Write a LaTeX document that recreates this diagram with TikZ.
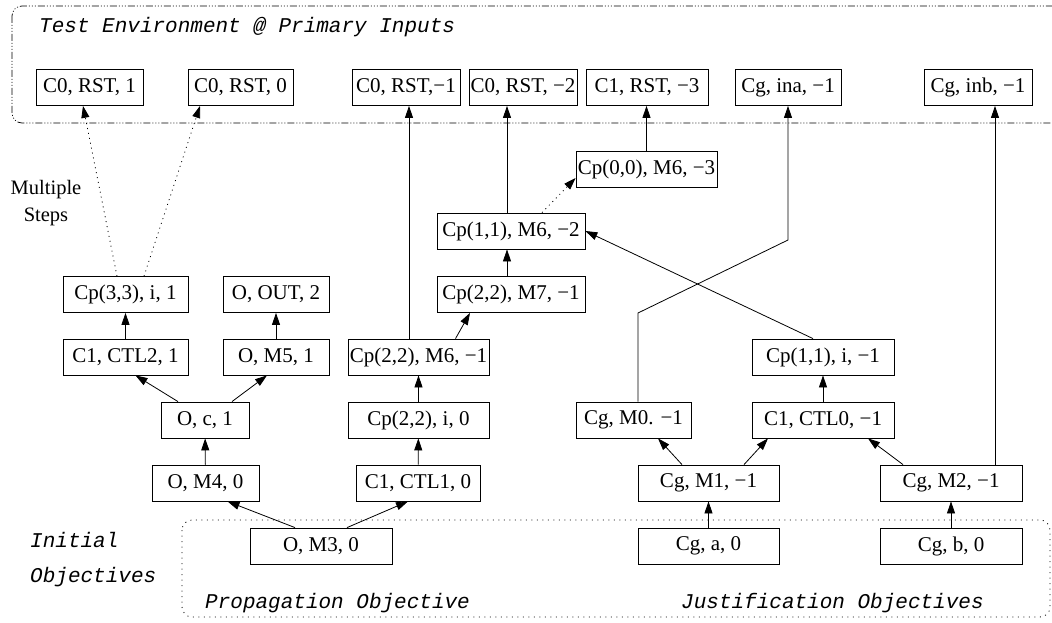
\documentclass[tikz,border=0pt]{standalone}
\usepackage{fontspec}
\setmainfont{Liberation Serif}
\setmonofont{Liberation Mono}
\usetikzlibrary{arrows.meta}

\begin{document}
\begin{tikzpicture}[x=1pt,y=-1pt,
  box/.style={draw, line width=0.8pt, minimum height=36pt, inner sep=0pt,
    font=\fontsize{21}{24}\selectfont},
  arr/.style={-{Triangle[length=12pt,width=8pt]}, line width=0.8pt},
  dotarr/.style={arr, dash pattern=on 1pt off 4pt},
  mono/.style={font=\fontsize{21}{24}\selectfont\ttfamily\itshape, inner sep=0pt, anchor=west},
  dashdotdot/.style={line width=0.7pt, dash pattern=on 7pt off 2pt on 1pt off 2pt on 1pt off 2pt on 1pt off 2pt},
  dotbox/.style={line width=0.8pt, dash pattern=on 1pt off 4.5pt},
]
\clip (0,0) rectangle (1052,623);

% surrounding regions
\draw[dashdotdot, rounded corners=10pt] (12,6) rectangle (1075,123);
\draw[dotbox, rounded corners=10pt] (182,520) rectangle (1050,617);

\node[mono] (env) at (39,27) {Test Environment @ Primary Inputs};
\node[mono] (ini1) at (30,540) {Initial};
\node[mono] (ini2) at (30,577) {Objectives};
\node[mono] (prop) at (205,603) {Propagation Objective};
\node[mono] (just) at (681,603) {Justification Objectives};
\node[font=\fontsize{20.5}{27}\selectfont, align=center, inner sep=0pt] (ms) at (46,203) {Multiple\\Steps};

% primary inputs
\node[box, minimum width=107pt] (t1) at (89.5,87.5) {C0, RST, 1};
\node[box, minimum width=105pt] (t2) at (240.5,87.5) {C0, RST, 0};
\node[box, minimum width=108pt] (t3) at (406,87.5) {C0, RST,−1};
\node[box, minimum width=108pt] (t4) at (523,87.5) {C0, RST, −2};
\node[box, minimum width=122pt] (t5) at (647,87.5) {C1, RST, −3};
\node[box, minimum width=106pt] (t6) at (788,87.5) {Cg, ina, −1};
\node[box, minimum width=108pt] (t7) at (978,87.5) {Cg, inb, −1};

% objective tree
\node[box, minimum width=141pt] (c00) at (646.5,169) {Cp(0,0), M6, −3};
\node[box, minimum width=148pt] (c11m6) at (511,231) {Cp(1,1), M6, −2};
\node[box, minimum width=125pt] (c33) at (125.5,294.5) {Cp(3,3), i, 1};
\node[box, minimum width=106pt] (oout) at (276,294.5) {O, OUT, 2};
\node[box, minimum width=148pt] (c22m7) at (511,294.5) {Cp(2,2), M7, −1};
\node[box, minimum width=125pt] (c1ctl2) at (125.5,357) {C1, CTL2, 1};
\node[box, minimum width=106pt] (om5) at (276,357) {O, M5, 1};
\node[box, minimum width=141pt] (c22m6) at (418.5,357) {Cp(2,2), M6, −1};
\node[box, minimum width=142pt] (c11i) at (823,357) {Cp(1,1), i, −1};
\node[box, minimum width=88pt] (oc1) at (205,420) {O, c, 1};
\node[box, minimum width=141pt] (c22i) at (418.5,420) {Cp(2,2), i, 0};
\node[box, minimum width=115pt] (cgm0) at (633.5,420) {Cg, M0. −1};
\node[box, minimum width=142pt] (c1ctl0) at (823,420) {C1, CTL0, −1};
\node[box, minimum width=107pt] (om4) at (205.5,483) {O, M4, 0};
\node[box, minimum width=124pt] (c1ctl1) at (418,483) {C1, CTL1, 0};
\node[box, minimum width=141pt] (cgm1) at (708.5,483) {Cg, M1, −1};
\node[box, minimum width=142pt] (cgm2) at (951,483) {Cg, M2, −1};
\node[box, minimum width=142pt] (om3) at (321,546) {O, M3, 0};
\node[box, minimum width=141pt] (cga) at (708.5,546) {Cg, a, 0};
\node[box, minimum width=142pt] (cgb) at (951,546) {Cg, b, 0};

% propagation side
\draw[arr] ([xshift=-26pt]om3.north) -- ([xshift=22pt]om4.south);
\draw[arr] ([xshift=26pt]om3.north) -- ([xshift=-10pt]c1ctl1.south);
\draw[arr] (om4) -- (oc1);
\draw[arr] ([xshift=-27pt]oc1.north) -- ([xshift=10pt]c1ctl2.south);
\draw[arr] ([xshift=27pt]oc1.north) -- ([xshift=-9pt]om5.south);
\draw[arr] (c1ctl2) -- (c33);
\draw[arr] (om5) -- (oout);
\draw[arr] (c1ctl1) -- (c22i);
\draw[arr] (c22i) -- (c22m6);
\draw[arr] ([xshift=37pt]c22m6.north) -- ([xshift=-41pt]c22m7.south);
\draw[arr] ([xshift=-9.5pt]c22m6.north) -- ([xshift=-9.5pt]c22m6.north |- t3.south);
\draw[arr] ([xshift=-4pt]c22m7.north) -- ([xshift=-4pt]c11m6.south);
\draw[arr] ([xshift=-4pt]c11m6.north) -- ([xshift=-4pt]c11m6.north |- t4.south);
\draw[dotarr] ([xshift=31pt]c11m6.north) -- ([yshift=-9pt]c00.west);
\draw[arr] (c00.north) -- (c00.north |- t5.south);
\draw[dotarr] ([xshift=-8.5pt]c33.north) -- ([xshift=-6.5pt]t1.south);
\draw[dotarr] ([xshift=18.5pt]c33.north) -- ([xshift=-40.5pt]t2.south);

% justification side
\draw[arr] (cga) -- (cgm1);
\draw[arr] (cgb) -- (cgm2);
\draw[arr] ([xshift=-26.5pt]cgm1.north) -- ([xshift=24.5pt]cgm0.south);
\draw[arr] ([xshift=35.5pt]cgm1.north) -- ([xshift=-55pt]c1ctl0.south);
\draw[arr] ([xshift=-48pt]cgm2.north) -- ([xshift=45pt]c1ctl0.south);
\draw[arr] (c1ctl0) -- (c11i);
\draw[arr] ([xshift=-10pt]c11i.north) -- (c11m6.east);
\coordinate (bend1) at (638,313);
\coordinate (bend2) at (788,240);
\draw[arr] ([xshift=4.5pt]cgm0.north) -- (bend1) -- (bend2) -- (bend2 |- t6.south);
\draw[arr] ([xshift=44pt]cgm2.north) -- ([xshift=44pt]cgm2.north |- t7.south);
\end{tikzpicture}
\end{document}
